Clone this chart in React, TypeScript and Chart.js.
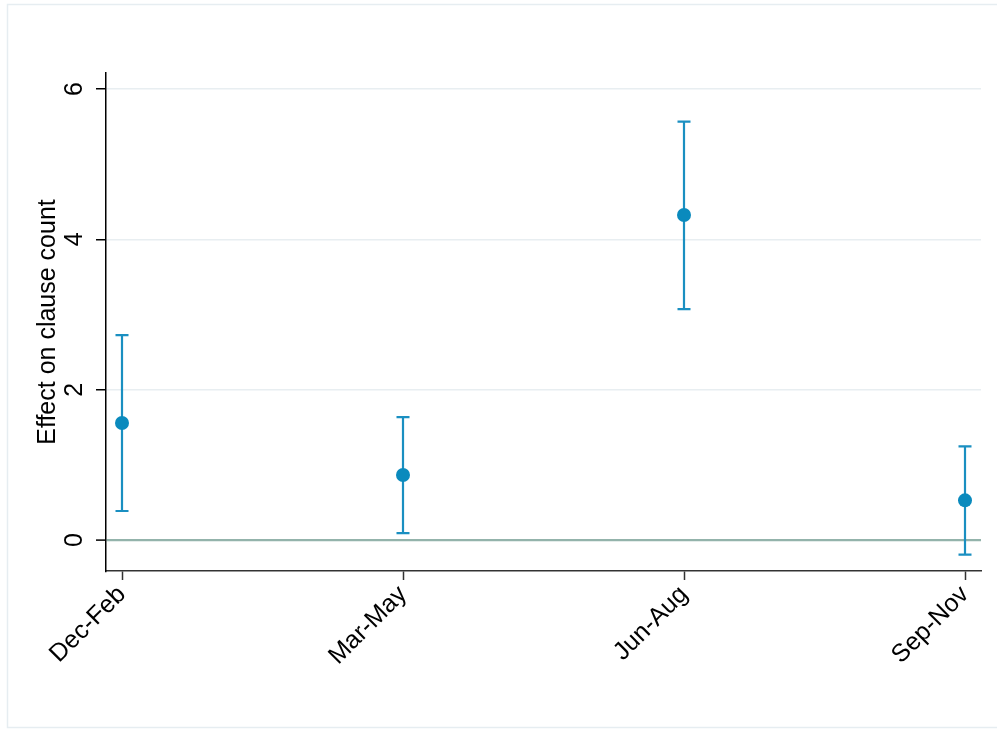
import React, { useEffect, useRef } from "react";
import { Chart, registerables } from "chart.js";

Chart.register(...registerables);

const categories = ["Dec-Feb", "Mar-May", "Jun-Aug", "Sep-Nov"];
const estimates = [1.556, 0.865, 4.324, 0.528];
const upperCI = [2.727, 1.636, 5.565, 1.246];
const lowerCI = [0.386, 0.093, 3.073, -0.195];
const yTickValues = [0, 2, 4, 6];

const FONT = "'Liberation Sans', Arial, Helvetica, sans-serif";
const POINT_COLOR = "#0a8abd";
const BAR_COLOR = "#1a8fc1";

const framePlugin = {
  id: "frame",
  beforeDraw(chart: any) {
    const ctx = chart.ctx;
    ctx.save();
    ctx.fillStyle = "#ffffff";
    ctx.fillRect(0, 0, chart.width, chart.height);
    ctx.strokeStyle = "#e6edf1";
    ctx.lineWidth = 1.5;
    ctx.strokeRect(7.5, 4.5, chart.width + 10, 723);
    ctx.restore();
  },
};

const errorBarPlugin = {
  id: "errorBars",
  beforeDatasetsDraw(chart: any) {
    const ctx = chart.ctx;
    const xs = chart.scales.x;
    const ys = chart.scales.y;
    ctx.save();
    ctx.strokeStyle = BAR_COLOR;
    ctx.lineWidth = 2.2;
    categories.forEach((_, i) => {
      const x = xs.getPixelForValue(i + 1);
      const yTop = ys.getPixelForValue(upperCI[i]);
      const yBot = ys.getPixelForValue(lowerCI[i]);
      const cap = 6.5;
      ctx.beginPath();
      ctx.moveTo(x, yTop);
      ctx.lineTo(x, yBot);
      ctx.moveTo(x - cap, yTop);
      ctx.lineTo(x + cap, yTop);
      ctx.moveTo(x - cap, yBot);
      ctx.lineTo(x + cap, yBot);
      ctx.stroke();
    });
    ctx.restore();
  },
};

export default function App() {
  const ref = useRef<HTMLCanvasElement | null>(null);

  useEffect(() => {
    document.body.style.margin = "0";
    const canvas = ref.current;
    if (!canvas) return;
    const chart = new Chart(canvas, {
      type: "scatter",
      data: {
        datasets: [
          {
            label: "Estimate",
            data: estimates.map((v, i) => ({ x: i + 1, y: v })),
            backgroundColor: POINT_COLOR,
            borderColor: POINT_COLOR,
            pointRadius: 7,
            pointBorderWidth: 0,
          },
        ],
      },
      options: {
        responsive: false,
        animation: false,
        devicePixelRatio: 1,
        layout: { padding: { top: 73, right: 16, left: 0, bottom: 0 } },
        plugins: {
          legend: { display: false },
          tooltip: { enabled: false },
        },
        scales: {
          x: {
            type: "linear",
            min: 1 - 16 / 281,
            max: 4 + 16 / 281,
            afterBuildTicks(scale: any) {
              scale.ticks = categories.map((_, i) => ({ value: i + 1 }));
            },
            afterFit(scale: any) {
              scale.height = 158;
            },
            border: { display: true, color: "#333333", width: 1.5 },
            grid: {
              drawOnChartArea: false,
              drawTicks: true,
              tickLength: 9,
              tickColor: "#333333",
              tickWidth: 1.5,
              color: "#333333",
            },
            ticks: {
              autoSkip: false,
              minRotation: 45,
              maxRotation: 45,
              padding: 0,
              color: "#000000",
              font: { family: FONT, size: 25 },
              callback: (v: any) => categories[Math.round(Number(v)) - 1] ?? "",
            },
          },
          y: {
            type: "linear",
            min: -0.412,
            max: 6.213,
            afterBuildTicks(scale: any) {
              scale.ticks = yTickValues.map((v) => ({ value: v }));
            },
            afterFit(scale: any) {
              scale.width = 106;
            },
            border: { display: true, color: "#000000", width: 1.5 },
            grid: {
              drawOnChartArea: true,
              drawTicks: true,
              tickLength: 10,
              tickColor: "#000000",
              tickWidth: 1.5,
              color: (c: any) => (c.tick && c.tick.value === 0 ? "#93b3ab" : "#e8eef1"),
              lineWidth: (c: any) => (c.tick && c.tick.value === 0 ? 2.2 : 1.5),
            },
            ticks: {
              minRotation: 90,
              maxRotation: 90,
              crossAlign: "center",
              padding: 14,
              color: "#000000",
              font: { family: FONT, size: 25 },
              callback: (v: any) => String(v),
            },
            title: {
              display: true,
              text: "Effect on clause count",
              color: "#000000",
              font: { family: FONT, size: 25 },
              padding: { top: 33, bottom: 0 },
            },
          },
        },
      },
      plugins: [framePlugin, errorBarPlugin],
    } as any);
    return () => chart.destroy();
  }, []);

  return (
    <canvas
      ref={ref}
      width={997}
      height={729}
      style={{ display: "block", width: 997, height: 729 }}
    />
  );
}
